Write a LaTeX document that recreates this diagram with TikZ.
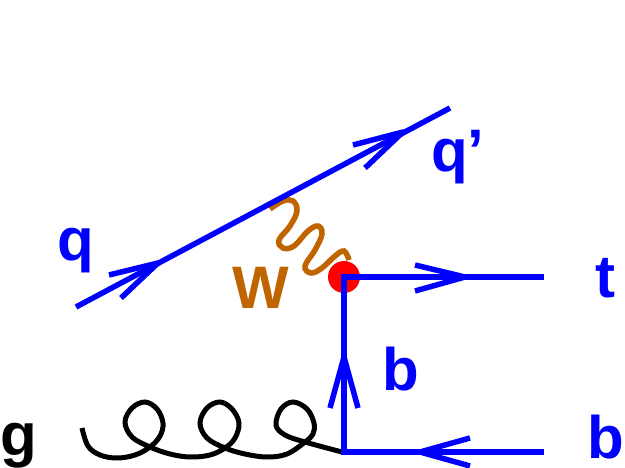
\documentclass[tikz,border=0pt]{standalone}
\usepackage{fontspec}
\setmainfont{Liberation Sans}
\definecolor{fblue}{RGB}{0,0,255}
\definecolor{wbrown}{RGB}{192,100,0}
\tikzset{
  lbl/.style={anchor=base west,inner sep=0pt,outer sep=0pt,font=\fontsize{60}{60}\selectfont\bfseries,text=fblue},
  ferm/.style={draw=fblue,line width=5.5pt,line cap=butt,line join=miter},
  barb/.style={draw=fblue,line width=5.5pt,line cap=butt,line join=round},
  boson/.style={draw=wbrown,line width=5.5pt,line cap=butt},
  gluon/.style={draw=black,line width=5pt,line cap=butt},
}
\begin{document}
\begin{tikzpicture}[x=1pt,y=-1pt]
\useasboundingbox (0,0) rectangle (625,468);
\coordinate (qin) at (76,307);
\coordinate (qout) at (450,108);
\coordinate (vtx) at (344,277);
\coordinate (tend) at (544,277);
\coordinate (gv) at (344,452);
\coordinate (bend) at (544,452);
\fill[red] (vtx) circle (16);
\draw[boson] plot[smooth,tension=0.65] coordinates {(270,209) (283,201) (293,201) (297,211) (290,226) (279,240) (283,248) (294,246) (308,231) (318,226) (322,234) (315,250) (305,266) (311,273) (322,268) (335,256) (344,251) (349,260)};
\draw[gluon] plot[smooth,tension=0.6] coordinates {(82,428) (88,446) (100,455) (117,458) (135,455) (150,447) (160,436) (163,423) (157,409) (145,402) (132,408) (125,422) (132,437) (150,447) (170,454) (190,457) (210,455) (225,448) (235,438) (239,423) (232,409) (220,402) (207,408) (200,423) (207,438) (225,448) (245,454) (267,457) (287,454) (305,442) (313,434) (314,423) (307,409) (293,402) (281,409) (276,425) (285,435) (305,442) (342,452)};
\draw[ferm] (qin) -- (qout);
\draw[ferm] (tend) -- (vtx) -- (gv) -- (bend);
\draw[barb] (109,275) -- (158,263) -- (121,298);
\draw[barb] (353,145) -- (403,132) -- (365,168);
\draw[barb] (415,265) -- (465,277) -- (415,291);
\draw[barb] (330,408) -- (344,357) -- (358,408);
\draw[barb] (470,438) -- (420,452) -- (470,466);
\node[lbl] (q) at (57,261) {q};
\node[lbl] (qp) at (431,172) {q’};
\node[lbl,text=wbrown] (W) at (232,309) {W};
\node[lbl] (t) at (595,298) {t};
\node[lbl] (b1) at (382,391) {b};
\node[lbl] (b2) at (587,458) {b};
\node[lbl,text=black] (g) at (1,455) {g};
\end{tikzpicture}
\end{document}
